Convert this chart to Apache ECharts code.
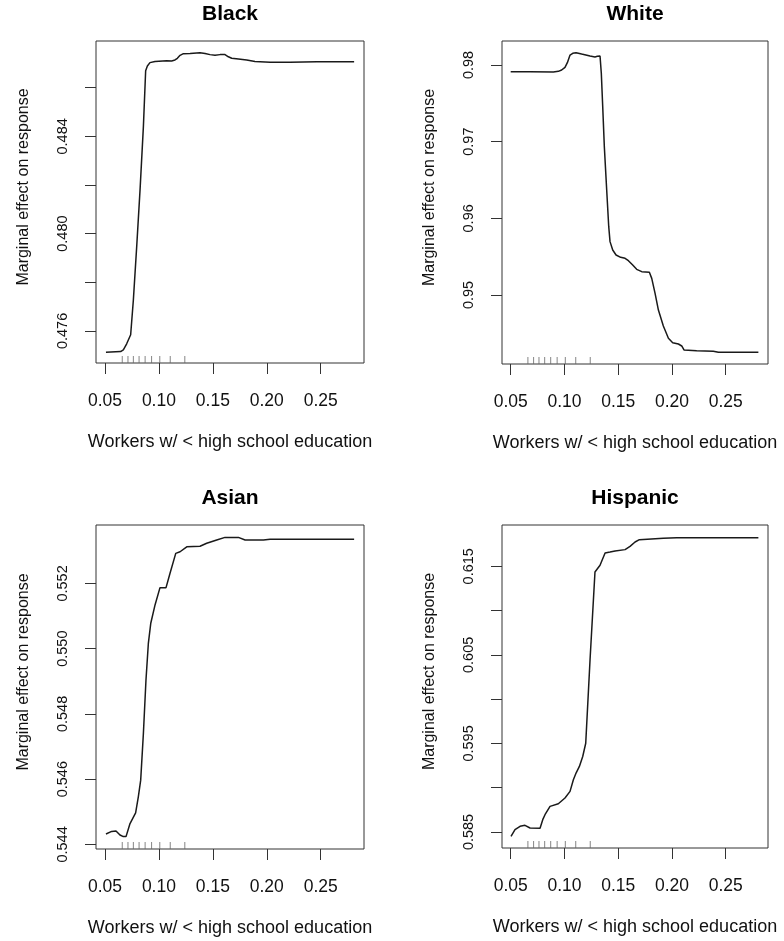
<!DOCTYPE html>
<html><head><meta charset="utf-8">
<script src="https://cdn.jsdelivr.net/npm/echarts@6/dist/echarts.min.js"></script>
<style>html,body{margin:0;padding:0;background:#fff}#c{width:784px;height:941px}</style>
</head><body><div id="c"></div>
<script>
// ---------- data ----------
const panelTitles = ['Black', 'White', 'Asian', 'Hispanic'];
const xAxisTitle = 'Workers w/ < high school education';
const yAxisTitle = 'Marginal effect on response';
const xTickValues = [0.05, 0.10, 0.15, 0.20, 0.25];
const rugX = [0.0660, 0.0713, 0.0763, 0.0816, 0.0872, 0.0932, 0.1008, 0.1105, 0.1240];

const blackX = [0.0509,0.0645,0.0670,0.0701,0.0738,0.0763,0.0794,0.0825,0.0856,0.0877,0.0893,0.0917,0.0964,0.1072,0.1118,0.1149,0.1171,0.1196,0.1227,0.1289,0.1381,0.1428,0.1474,0.1520,0.1567,0.1613,0.1644,0.1675,0.1737,0.1814,0.1891,0.2031,0.2216,0.2464,0.2810];
const blackY = [0.47512,0.47515,0.47522,0.47547,0.47584,0.47727,0.47947,0.48180,0.48440,0.48670,0.48689,0.48703,0.48708,0.48711,0.48710,0.48714,0.48721,0.48733,0.48740,0.48741,0.48744,0.48741,0.48736,0.48733,0.48736,0.48736,0.48727,0.48721,0.48718,0.48714,0.48708,0.48705,0.48705,0.48707,0.48707];
const blackYTicks = [0.476, 0.478, 0.480, 0.482, 0.484, 0.486];
const blackYLabels = [0.476, 0.480, 0.484];

const whiteX = [0.0500,0.0680,0.0897,0.0943,0.0974,0.1005,0.1027,0.1052,0.1077,0.1108,0.1160,0.1238,0.1284,0.1306,0.1331,0.1343,0.1356,0.1371,0.1393,0.1412,0.1424,0.1449,0.1480,0.1523,0.1564,0.1595,0.1635,0.1672,0.1719,0.1790,0.1812,0.1843,0.1874,0.1920,0.1967,0.2007,0.2060,0.2091,0.2112,0.2230,0.2385,0.2432,0.2804];
const whiteY = [0.97913,0.97913,0.97909,0.97917,0.97935,0.97970,0.98030,0.98130,0.98152,0.98161,0.98143,0.98117,0.98104,0.98113,0.98117,0.97891,0.97457,0.96935,0.96370,0.95891,0.95696,0.95587,0.95522,0.95491,0.95478,0.95448,0.95391,0.95335,0.95304,0.95296,0.95217,0.95022,0.94804,0.94596,0.94435,0.94378,0.94361,0.94335,0.94283,0.94274,0.94265,0.94252,0.94252];
const whiteYTicks = [0.95, 0.96, 0.97, 0.98];
const whiteYLabels = [0.95, 0.96, 0.97, 0.98];

const asianX = [0.0509,0.0562,0.0602,0.0639,0.0670,0.0695,0.0732,0.0784,0.0809,0.0831,0.0856,0.0880,0.0902,0.0924,0.0964,0.1010,0.1066,0.1103,0.1156,0.1196,0.1258,0.1381,0.1443,0.1536,0.1613,0.1737,0.1799,0.1969,0.2031,0.2810];
const asianY = [0.54432,0.54440,0.54441,0.54429,0.54424,0.54424,0.54464,0.54497,0.54546,0.54597,0.54740,0.54904,0.55016,0.55077,0.55134,0.55187,0.55187,0.55231,0.55292,0.55297,0.55312,0.55314,0.55323,0.55333,0.55341,0.55341,0.55333,0.55333,0.55335,0.55335];
const asianYTicks = [0.544, 0.546, 0.548, 0.550, 0.552];
const asianYLabels = [0.544, 0.546, 0.548, 0.550, 0.552];

const hispanicX = [0.0503,0.0540,0.0587,0.0633,0.0680,0.0773,0.0798,0.0819,0.0866,0.0943,0.1005,0.1052,0.1083,0.1108,0.1139,0.1170,0.1198,0.1238,0.1284,0.1331,0.1378,0.1424,0.1471,0.1564,0.1610,0.1657,0.1697,0.1920,0.2044,0.2804];
const hispanicY = [0.58451,0.58526,0.58564,0.58575,0.58545,0.58541,0.58639,0.58695,0.58789,0.58819,0.58883,0.58958,0.59089,0.59165,0.59240,0.59352,0.59502,0.60441,0.61436,0.61511,0.61650,0.61661,0.61673,0.61688,0.61725,0.61774,0.61800,0.61815,0.61823,0.61823];
const hispanicYTicks = [0.585, 0.590, 0.595, 0.600, 0.605, 0.610, 0.615];
const hispanicYLabels = [0.585, 0.595, 0.605, 0.615];

// ---------- layout / style ----------
const FONT = '"Liberation Sans", Arial, Helvetica, sans-serif';
const INK = '#1a1a1a';
const panels = [
  {x: blackX, y: blackY, ticks: blackYTicks, labels: blackYLabels, dec: 3,
   grid: {left: 96, top: 41, width: 268, height: 322}, xr: [0.04166, 0.29016], yr: [0.47468, 0.48792]},
  {x: whiteX, y: whiteY, ticks: whiteYTicks, labels: whiteYLabels, dec: 2,
   grid: {left: 502, top: 41, width: 266, height: 323}, xr: [0.04191, 0.28935], yr: [0.94100, 0.98313]},
  {x: asianX, y: asianY, ticks: asianYTicks, labels: asianYLabels, dec: 3,
   grid: {left: 96, top: 525, width: 268, height: 324}, xr: [0.04166, 0.29016], yr: [0.54386, 0.55379]},
  {x: hispanicX, y: hispanicY, ticks: hispanicYTicks, labels: hispanicYLabels, dec: 3,
   grid: {left: 502, top: 525, width: 266, height: 323}, xr: [0.04191, 0.28935], yr: [0.58319, 0.61966]}
];

const grids = [], xAxes = [], yAxes = [], series = [], titles = [];
panels.forEach((p, i) => {
  grids.push(Object.assign({show: true, borderColor: '#333', borderWidth: 1, backgroundColor: 'transparent',
    containLabel: false, outerBoundsMode: 'none'}, p.grid));
  titles.push({text: panelTitles[i], left: p.grid.left + p.grid.width / 2, top: p.grid.top - 37,
    textAlign: 'center', padding: 0,
    textStyle: {fontFamily: FONT, fontWeight: 'bold', fontSize: 21, color: '#000'}});
  xAxes.push({type: 'value', gridIndex: i, min: p.xr[0], max: p.xr[1],
    splitLine: {show: false}, axisLine: {show: false},
    axisTick: {show: true, length: 11, lineStyle: {color: '#333', width: 1}, customValues: xTickValues},
    axisLabel: {show: true, customValues: xTickValues, margin: 29, fontFamily: FONT, fontSize: 17.5, color: '#111',
      formatter: v => v.toFixed(2)},
    name: xAxisTitle, nameLocation: 'middle', nameGap: 70,
    nameTextStyle: {fontFamily: FONT, fontSize: 18, color: '#111'}});
  yAxes.push({type: 'value', gridIndex: i, min: p.yr[0], max: p.yr[1],
    splitLine: {show: false}, axisLine: {show: false},
    axisTick: {show: true, length: 11, lineStyle: {color: '#333', width: 1}, customValues: p.ticks},
    axisLabel: {show: true, customValues: p.labels, rotate: 90, margin: 26, fontFamily: FONT, fontSize: 14.5, color: '#111',
      formatter: v => v.toFixed(p.dec)},
    name: yAxisTitle, nameLocation: 'middle', nameGap: 64, nameRotate: 90,
    nameTextStyle: {fontFamily: FONT, fontSize: 16, color: '#111', padding: [0, 0, 0, 30]}});
  series.push({type: 'line', xAxisIndex: i, yAxisIndex: i, showSymbol: false, symbol: 'none',
    lineStyle: {color: INK, width: 1.5}, data: p.x.map((v, k) => [v, p.y[k]]), silent: true});
  series.push({type: 'scatter', xAxisIndex: i, yAxisIndex: i, symbol: 'rect', symbolSize: [1, 7],
    symbolOffset: [0, -3.5], clip: false, itemStyle: {color: '#666'}, silent: true,
    data: rugX.map(v => [v, p.yr[0]])});
});

const chart = echarts.init(document.getElementById('c'), null, {renderer: 'canvas'});
chart.setOption({animation: false, backgroundColor: '#fff', title: titles, grid: grids,
  xAxis: xAxes, yAxis: yAxes, series: series});
</script></body></html>
